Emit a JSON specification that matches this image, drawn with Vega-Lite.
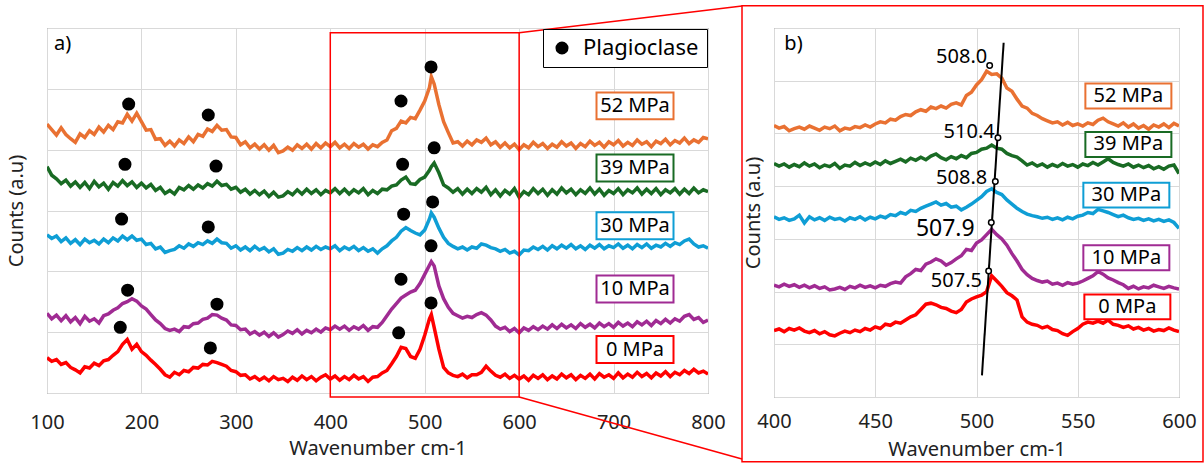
{
"$schema": "https://vega.github.io/schema/vega-lite/v6.json",
"padding": {"left": 5, "top": 4, "right": 0, "bottom": 0},
"bounds": "flush",
"spacing": 66,
"resolve": {"legend": {"shape": "independent"}},
"config": {
  "font": "Noto Sans",
  "view": {"stroke": "#6e6e6e", "strokeWidth": 1},
  "axis": {"grid": true, "gridColor": "#d9d9d9", "domain": false, "ticks": false, "tickSize": 0, "labelFontSize": 20, "titleFontSize": 20, "titleFontWeight": "normal", "labelColor": "#222", "titleColor": "#222", "labelFlush": false}
},
"datasets": {
"specA": [
{"x":100,"s52":4.42,"s39":3.72,"s30":2.60,"s10":1.31,"s0":0.58},
{"x":105,"s52":4.33,"s39":3.58,"s30":2.54,"s10":1.22,"s0":0.52},
{"x":110,"s52":4.24,"s39":3.52,"s30":2.58,"s10":1.28,"s0":0.55},
{"x":115,"s52":4.36,"s39":3.44,"s30":2.49,"s10":1.19,"s0":0.47},
{"x":120,"s52":4.25,"s39":3.50,"s30":2.55,"s10":1.27,"s0":0.50},
{"x":125,"s52":4.18,"s39":3.40,"s30":2.46,"s10":1.17,"s0":0.42},
{"x":130,"s52":4.12,"s39":3.47,"s30":2.52,"s10":1.24,"s0":0.38},
{"x":135,"s52":4.26,"s39":3.38,"s30":2.44,"s10":1.14,"s0":0.33},
{"x":140,"s52":4.20,"s39":3.46,"s30":2.53,"s10":1.26,"s0":0.43},
{"x":145,"s52":4.31,"s39":3.36,"s30":2.47,"s10":1.18,"s0":0.41},
{"x":150,"s52":4.25,"s39":3.48,"s30":2.51,"s10":1.22,"s0":0.49},
{"x":155,"s52":4.37,"s39":3.39,"s30":2.45,"s10":1.15,"s0":0.45},
{"x":160,"s52":4.29,"s39":3.45,"s30":2.53,"s10":1.27,"s0":0.53},
{"x":165,"s52":4.40,"s39":3.35,"s30":2.47,"s10":1.30,"s0":0.55},
{"x":170,"s52":4.33,"s39":3.46,"s30":2.55,"s10":1.36,"s0":0.62},
{"x":175,"s52":4.46,"s39":3.40,"s30":2.50,"s10":1.40,"s0":0.68},
{"x":180,"s52":4.44,"s39":3.49,"s30":2.58,"s10":1.47,"s0":0.80},
{"x":185,"s52":4.58,"s39":3.41,"s30":2.52,"s10":1.50,"s0":0.88},
{"x":190,"s52":4.47,"s39":3.47,"s30":2.58,"s10":1.55,"s0":0.72},
{"x":195,"s52":4.60,"s39":3.38,"s30":2.51,"s10":1.51,"s0":0.80},
{"x":200,"s52":4.46,"s39":3.45,"s30":2.53,"s10":1.43,"s0":0.68},
{"x":205,"s52":4.32,"s39":3.37,"s30":2.44,"s10":1.38,"s0":0.62},
{"x":210,"s52":4.33,"s39":3.43,"s30":2.46,"s10":1.29,"s0":0.54},
{"x":215,"s52":4.17,"s39":3.33,"s30":2.37,"s10":1.20,"s0":0.47},
{"x":220,"s52":4.18,"s39":3.38,"s30":2.40,"s10":1.14,"s0":0.39},
{"x":225,"s52":4.07,"s39":3.28,"s30":2.31,"s10":1.06,"s0":0.30},
{"x":230,"s52":4.14,"s39":3.33,"s30":2.34,"s10":1.03,"s0":0.26},
{"x":235,"s52":4.06,"s39":3.27,"s30":2.36,"s10":1.05,"s0":0.34},
{"x":240,"s52":4.16,"s39":3.38,"s30":2.42,"s10":1.01,"s0":0.30},
{"x":245,"s52":4.10,"s39":3.34,"s30":2.38,"s10":1.09,"s0":0.37},
{"x":250,"s52":4.21,"s39":3.41,"s30":2.45,"s10":1.08,"s0":0.35},
{"x":255,"s52":4.13,"s39":3.35,"s30":2.41,"s10":1.14,"s0":0.42},
{"x":260,"s52":4.25,"s39":3.42,"s30":2.47,"s10":1.15,"s0":0.41},
{"x":265,"s52":4.22,"s39":3.37,"s30":2.44,"s10":1.21,"s0":0.47},
{"x":270,"s52":4.34,"s39":3.44,"s30":2.50,"s10":1.23,"s0":0.46},
{"x":275,"s52":4.30,"s39":3.40,"s30":2.46,"s10":1.29,"s0":0.52},
{"x":280,"s52":4.40,"s39":3.48,"s30":2.53,"s10":1.28,"s0":0.50},
{"x":285,"s52":4.32,"s39":3.41,"s30":2.47,"s10":1.23,"s0":0.47},
{"x":290,"s52":4.33,"s39":3.43,"s30":2.46,"s10":1.20,"s0":0.44},
{"x":295,"s52":4.21,"s39":3.35,"s30":2.38,"s10":1.12,"s0":0.37},
{"x":300,"s52":4.20,"s39":3.38,"s30":2.42,"s10":1.11,"s0":0.35},
{"x":305,"s52":4.08,"s39":3.30,"s30":2.35,"s10":1.04,"s0":0.29},
{"x":310,"s52":4.13,"s39":3.35,"s30":2.40,"s10":1.05,"s0":0.30},
{"x":315,"s52":4.03,"s39":3.27,"s30":2.34,"s10":0.97,"s0":0.23},
{"x":320,"s52":4.09,"s39":3.33,"s30":2.41,"s10":1.01,"s0":0.27},
{"x":325,"s52":4.01,"s39":3.26,"s30":2.35,"s10":0.95,"s0":0.21},
{"x":330,"s52":4.08,"s39":3.32,"s30":2.39,"s10":1.00,"s0":0.26},
{"x":335,"s52":3.99,"s39":3.23,"s30":2.32,"s10":0.93,"s0":0.20},
{"x":340,"s52":4.07,"s39":3.30,"s30":2.37,"s10":0.99,"s0":0.27},
{"x":345,"s52":3.95,"s39":3.22,"s30":2.28,"s10":0.92,"s0":0.22},
{"x":350,"s52":3.98,"s39":3.24,"s30":2.30,"s10":0.96,"s0":0.24},
{"x":355,"s52":4.04,"s39":3.31,"s30":2.36,"s10":1.02,"s0":0.19},
{"x":360,"s52":3.99,"s39":3.26,"s30":2.33,"s10":0.98,"s0":0.26},
{"x":365,"s52":4.08,"s39":3.34,"s30":2.39,"s10":1.04,"s0":0.21},
{"x":370,"s52":4.02,"s39":3.27,"s30":2.34,"s10":0.97,"s0":0.28},
{"x":375,"s52":4.09,"s39":3.35,"s30":2.40,"s10":1.03,"s0":0.22},
{"x":380,"s52":4.01,"s39":3.28,"s30":2.35,"s10":0.99,"s0":0.27},
{"x":385,"s52":4.10,"s39":3.34,"s30":2.41,"s10":1.05,"s0":0.20},
{"x":390,"s52":4.03,"s39":3.26,"s30":2.36,"s10":1.00,"s0":0.26},
{"x":395,"s52":4.11,"s39":3.33,"s30":2.40,"s10":1.07,"s0":0.30},
{"x":400,"s52":4.05,"s39":3.29,"s30":2.37,"s10":1.04,"s0":0.23},
{"x":405,"s52":4.12,"s39":3.36,"s30":2.42,"s10":1.10,"s0":0.28},
{"x":410,"s52":4.03,"s39":3.28,"s30":2.34,"s10":1.05,"s0":0.21},
{"x":415,"s52":4.09,"s39":3.35,"s30":2.40,"s10":1.10,"s0":0.27},
{"x":420,"s52":4.02,"s39":3.27,"s30":2.36,"s10":1.03,"s0":0.22},
{"x":425,"s52":4.10,"s39":3.34,"s30":2.41,"s10":1.09,"s0":0.29},
{"x":430,"s52":4.04,"s39":3.29,"s30":2.34,"s10":1.05,"s0":0.23},
{"x":435,"s52":4.09,"s39":3.36,"s30":2.39,"s10":1.11,"s0":0.27},
{"x":440,"s52":4.01,"s39":3.26,"s30":2.33,"s10":1.03,"s0":0.19},
{"x":445,"s52":4.08,"s39":3.33,"s30":2.37,"s10":1.09,"s0":0.26},
{"x":450,"s52":4.05,"s39":3.28,"s30":2.30,"s10":1.08,"s0":0.27},
{"x":455,"s52":4.12,"s39":3.35,"s30":2.37,"s10":1.16,"s0":0.33},
{"x":460,"s52":4.16,"s39":3.34,"s30":2.42,"s10":1.27,"s0":0.37},
{"x":465,"s52":4.31,"s39":3.40,"s30":2.50,"s10":1.38,"s0":0.48},
{"x":470,"s52":4.35,"s39":3.42,"s30":2.56,"s10":1.47,"s0":0.60},
{"x":475,"s52":4.47,"s39":3.50,"s30":2.66,"s10":1.56,"s0":0.75},
{"x":480,"s52":4.44,"s39":3.55,"s30":2.72,"s10":1.61,"s0":0.73},
{"x":485,"s52":4.53,"s39":3.44,"s30":2.67,"s10":1.66,"s0":0.60},
{"x":490,"s52":4.51,"s39":3.43,"s30":2.63,"s10":1.69,"s0":0.57},
{"x":495,"s52":4.65,"s39":3.51,"s30":2.60,"s10":1.80,"s0":0.72},
{"x":500,"s52":4.80,"s39":3.55,"s30":2.68,"s10":1.95,"s0":0.95},
{"x":505,"s52":5.02,"s39":3.66,"s30":2.86,"s10":2.10,"s0":1.22},
{"x":507,"s52":5.20,"s39":3.72,"s30":2.96,"s10":2.16,"s0":1.29},
{"x":510,"s52":5.08,"s39":3.78,"s30":2.89,"s10":2.09,"s0":1.08},
{"x":515,"s52":4.74,"s39":3.62,"s30":2.71,"s10":1.76,"s0":0.72},
{"x":520,"s52":4.46,"s39":3.42,"s30":2.56,"s10":1.55,"s0":0.42},
{"x":525,"s52":4.28,"s39":3.37,"s30":2.46,"s10":1.41,"s0":0.33},
{"x":530,"s52":4.11,"s39":3.30,"s30":2.41,"s10":1.31,"s0":0.29},
{"x":535,"s52":4.13,"s39":3.36,"s30":2.37,"s10":1.27,"s0":0.27},
{"x":540,"s52":4.06,"s39":3.27,"s30":2.40,"s10":1.23,"s0":0.31},
{"x":545,"s52":4.14,"s39":3.35,"s30":2.35,"s10":1.26,"s0":0.25},
{"x":550,"s52":4.08,"s39":3.28,"s30":2.40,"s10":1.24,"s0":0.30},
{"x":555,"s52":4.16,"s39":3.36,"s30":2.38,"s10":1.29,"s0":0.30},
{"x":560,"s52":4.12,"s39":3.30,"s30":2.45,"s10":1.32,"s0":0.34},
{"x":565,"s52":4.19,"s39":3.38,"s30":2.43,"s10":1.28,"s0":0.44},
{"x":570,"s52":4.08,"s39":3.26,"s30":2.39,"s10":1.20,"s0":0.36},
{"x":575,"s52":4.13,"s39":3.34,"s30":2.37,"s10":1.10,"s0":0.29},
{"x":580,"s52":4.04,"s39":3.24,"s30":2.33,"s10":1.05,"s0":0.26},
{"x":585,"s52":4.11,"s39":3.33,"s30":2.36,"s10":1.08,"s0":0.31},
{"x":590,"s52":4.03,"s39":3.27,"s30":2.30,"s10":1.01,"s0":0.24},
{"x":595,"s52":4.09,"s39":3.36,"s30":2.33,"s10":1.06,"s0":0.29},
{"x":600,"s52":4.00,"s39":3.22,"s30":2.27,"s10":0.99,"s0":0.23},
{"x":605,"s52":4.08,"s39":3.31,"s30":2.35,"s10":1.07,"s0":0.28},
{"x":610,"s52":4.03,"s39":3.26,"s30":2.34,"s10":1.03,"s0":0.21},
{"x":615,"s52":4.12,"s39":3.36,"s30":2.40,"s10":1.09,"s0":0.29},
{"x":620,"s52":4.05,"s39":3.28,"s30":2.36,"s10":1.04,"s0":0.24},
{"x":625,"s52":4.10,"s39":3.35,"s30":2.41,"s10":1.10,"s0":0.30},
{"x":630,"s52":4.02,"s39":3.25,"s30":2.35,"s10":1.05,"s0":0.22},
{"x":635,"s52":4.09,"s39":3.34,"s30":2.42,"s10":1.12,"s0":0.28},
{"x":640,"s52":4.04,"s39":3.27,"s30":2.37,"s10":1.06,"s0":0.23},
{"x":645,"s52":4.13,"s39":3.37,"s30":2.43,"s10":1.13,"s0":0.31},
{"x":650,"s52":4.06,"s39":3.29,"s30":2.38,"s10":1.07,"s0":0.25},
{"x":655,"s52":4.11,"s39":3.35,"s30":2.44,"s10":1.12,"s0":0.30},
{"x":660,"s52":4.02,"s39":3.26,"s30":2.37,"s10":1.06,"s0":0.22},
{"x":665,"s52":4.10,"s39":3.34,"s30":2.42,"s10":1.14,"s0":0.29},
{"x":670,"s52":4.05,"s39":3.28,"s30":2.36,"s10":1.08,"s0":0.24},
{"x":675,"s52":4.14,"s39":3.37,"s30":2.43,"s10":1.13,"s0":0.31},
{"x":680,"s52":4.07,"s39":3.27,"s30":2.38,"s10":1.07,"s0":0.23},
{"x":685,"s52":4.12,"s39":3.35,"s30":2.44,"s10":1.15,"s0":0.32},
{"x":690,"s52":4.04,"s39":3.25,"s30":2.37,"s10":1.09,"s0":0.26},
{"x":695,"s52":4.13,"s39":3.33,"s30":2.42,"s10":1.14,"s0":0.30},
{"x":700,"s52":4.08,"s39":3.28,"s30":2.39,"s10":1.08,"s0":0.24},
{"x":705,"s52":4.15,"s39":3.36,"s30":2.45,"s10":1.16,"s0":0.33},
{"x":710,"s52":4.06,"s39":3.26,"s30":2.38,"s10":1.10,"s0":0.25},
{"x":715,"s52":4.12,"s39":3.34,"s30":2.43,"s10":1.15,"s0":0.31},
{"x":720,"s52":4.07,"s39":3.29,"s30":2.37,"s10":1.09,"s0":0.26},
{"x":725,"s52":4.16,"s39":3.37,"s30":2.44,"s10":1.17,"s0":0.34},
{"x":730,"s52":4.09,"s39":3.27,"s30":2.39,"s10":1.12,"s0":0.27},
{"x":735,"s52":4.13,"s39":3.35,"s30":2.45,"s10":1.18,"s0":0.32},
{"x":740,"s52":4.05,"s39":3.28,"s30":2.38,"s10":1.11,"s0":0.25},
{"x":745,"s52":4.14,"s39":3.36,"s30":2.43,"s10":1.19,"s0":0.33},
{"x":750,"s52":4.10,"s39":3.26,"s30":2.40,"s10":1.14,"s0":0.28},
{"x":755,"s52":4.17,"s39":3.34,"s30":2.46,"s10":1.21,"s0":0.35},
{"x":760,"s52":4.08,"s39":3.29,"s30":2.41,"s10":1.15,"s0":0.27},
{"x":765,"s52":4.15,"s39":3.36,"s30":2.47,"s10":1.22,"s0":0.34},
{"x":770,"s52":4.11,"s39":3.27,"s30":2.44,"s10":1.18,"s0":0.30},
{"x":775,"s52":4.19,"s39":3.35,"s30":2.50,"s10":1.26,"s0":0.37},
{"x":780,"s52":4.10,"s39":3.28,"s30":2.53,"s10":1.29,"s0":0.32},
{"x":785,"s52":4.16,"s39":3.37,"s30":2.45,"s10":1.21,"s0":0.39},
{"x":790,"s52":4.12,"s39":3.29,"s30":2.40,"s10":1.24,"s0":0.33},
{"x":795,"s52":4.20,"s39":3.34,"s30":2.42,"s10":1.16,"s0":0.36},
{"x":800,"s52":4.18,"s39":3.31,"s30":2.38,"s10":1.20,"s0":0.31}
],
"specB": [
{"x":400,"s52":5.15,"s39":4.43,"s30":3.42,"s10":2.12,"s0":1.26},
{"x":402.5,"s52":5.10,"s39":4.38,"s30":3.37,"s10":2.09,"s0":1.29},
{"x":405,"s52":5.13,"s39":4.42,"s30":3.40,"s10":2.14,"s0":1.24},
{"x":407.5,"s52":5.05,"s39":4.36,"s30":3.35,"s10":2.10,"s0":1.30},
{"x":410,"s52":5.09,"s39":4.41,"s30":3.38,"s10":2.13,"s0":1.27},
{"x":412.5,"s52":5.12,"s39":4.37,"s30":3.45,"s10":2.08,"s0":1.31},
{"x":415,"s52":5.08,"s39":4.44,"s30":3.30,"s10":2.12,"s0":1.25},
{"x":417.5,"s52":5.14,"s39":4.38,"s30":3.42,"s10":2.07,"s0":1.22},
{"x":420,"s52":5.10,"s39":4.42,"s30":3.36,"s10":2.11,"s0":1.26},
{"x":422.5,"s52":5.06,"s39":4.35,"s30":3.40,"s10":2.06,"s0":1.20},
{"x":425,"s52":5.12,"s39":4.40,"s30":3.35,"s10":2.09,"s0":1.24},
{"x":427.5,"s52":5.09,"s39":4.37,"s30":3.41,"s10":2.03,"s0":1.18},
{"x":430,"s52":5.14,"s39":4.43,"s30":3.37,"s10":2.05,"s0":1.16},
{"x":432.5,"s52":5.05,"s39":4.34,"s30":3.39,"s10":2.08,"s0":1.21},
{"x":435,"s52":5.10,"s39":4.40,"s30":3.34,"s10":2.04,"s0":1.25},
{"x":437.5,"s52":5.08,"s39":4.38,"s30":3.40,"s10":2.10,"s0":1.22},
{"x":440,"s52":5.13,"s39":4.45,"s30":3.37,"s10":2.07,"s0":1.27},
{"x":442.5,"s52":5.11,"s39":4.39,"s30":3.42,"s10":2.12,"s0":1.24},
{"x":445,"s52":5.16,"s39":4.44,"s30":3.36,"s10":2.08,"s0":1.30},
{"x":447.5,"s52":5.12,"s39":4.40,"s30":3.41,"s10":2.11,"s0":1.27},
{"x":450,"s52":5.18,"s39":4.46,"s30":3.38,"s10":2.07,"s0":1.33},
{"x":452.5,"s52":5.22,"s39":4.41,"s30":3.43,"s10":2.12,"s0":1.30},
{"x":455,"s52":5.20,"s39":4.48,"s30":3.40,"s10":2.10,"s0":1.38},
{"x":457.5,"s52":5.27,"s39":4.43,"s30":3.46,"s10":2.15,"s0":1.36},
{"x":460,"s52":5.25,"s39":4.47,"s30":3.44,"s10":2.18,"s0":1.42},
{"x":462.5,"s52":5.32,"s39":4.51,"s30":3.50,"s10":2.16,"s0":1.40},
{"x":465,"s52":5.36,"s39":4.46,"s30":3.47,"s10":2.28,"s0":1.46},
{"x":467.5,"s52":5.34,"s39":4.53,"s30":3.54,"s10":2.34,"s0":1.52},
{"x":470,"s52":5.41,"s39":4.49,"s30":3.52,"s10":2.42,"s0":1.56},
{"x":472.5,"s52":5.45,"s39":4.55,"s30":3.58,"s10":2.40,"s0":1.66},
{"x":475,"s52":5.42,"s39":4.50,"s30":3.62,"s10":2.52,"s0":1.76},
{"x":477.5,"s52":5.50,"s39":4.57,"s30":3.66,"s10":2.56,"s0":1.78},
{"x":480,"s52":5.47,"s39":4.61,"s30":3.70,"s10":2.62,"s0":1.75},
{"x":482.5,"s52":5.52,"s39":4.54,"s30":3.64,"s10":2.58,"s0":1.70},
{"x":485,"s52":5.48,"s39":4.50,"s30":3.67,"s10":2.50,"s0":1.68},
{"x":487.5,"s52":5.55,"s39":4.56,"s30":3.60,"s10":2.55,"s0":1.63},
{"x":490,"s52":5.58,"s39":4.52,"s30":3.62,"s10":2.62,"s0":1.60},
{"x":492.5,"s52":5.54,"s39":4.58,"s30":3.55,"s10":2.68,"s0":1.66},
{"x":495,"s52":5.72,"s39":4.54,"s30":3.60,"s10":2.80,"s0":1.80},
{"x":497.5,"s52":5.78,"s39":4.62,"s30":3.66,"s10":2.78,"s0":1.86},
{"x":500,"s52":5.92,"s39":4.64,"s30":3.73,"s10":2.92,"s0":1.90},
{"x":502.5,"s52":6.02,"s39":4.70,"s30":3.80,"s10":2.98,"s0":1.93},
{"x":505,"s52":6.18,"s39":4.72,"s30":3.90,"s10":3.08,"s0":2.00},
{"x":507.5,"s52":6.12,"s39":4.78,"s30":3.95,"s10":3.18,"s0":2.30},
{"x":510,"s52":6.13,"s39":4.72,"s30":3.88,"s10":3.08,"s0":2.20},
{"x":512.5,"s52":6.05,"s39":4.70,"s30":3.84,"s10":3.00,"s0":2.10},
{"x":515,"s52":5.86,"s39":4.62,"s30":3.74,"s10":2.88,"s0":1.98},
{"x":517.5,"s52":5.80,"s39":4.58,"s30":3.66,"s10":2.72,"s0":1.92},
{"x":520,"s52":5.65,"s39":4.55,"s30":3.58,"s10":2.58,"s0":1.84},
{"x":522.5,"s52":5.52,"s39":4.48,"s30":3.52,"s10":2.42,"s0":1.52},
{"x":525,"s52":5.48,"s39":4.40,"s30":3.47,"s10":2.32,"s0":1.42},
{"x":527.5,"s52":5.38,"s39":4.44,"s30":3.44,"s10":2.25,"s0":1.38},
{"x":530,"s52":5.34,"s39":4.38,"s30":3.42,"s10":2.21,"s0":1.36},
{"x":532.5,"s52":5.28,"s39":4.42,"s30":3.39,"s10":2.18,"s0":1.31},
{"x":535,"s52":5.24,"s39":4.36,"s30":3.41,"s10":2.20,"s0":1.34},
{"x":537.5,"s52":5.20,"s39":4.41,"s30":3.37,"s10":2.14,"s0":1.28},
{"x":540,"s52":5.22,"s39":4.37,"s30":3.40,"s10":2.16,"s0":1.26},
{"x":542.5,"s52":5.16,"s39":4.43,"s30":3.36,"s10":2.12,"s0":1.20},
{"x":545,"s52":5.21,"s39":4.38,"s30":3.41,"s10":2.17,"s0":1.17},
{"x":547.5,"s52":5.15,"s39":4.41,"s30":3.38,"s10":2.14,"s0":1.24},
{"x":550,"s52":5.18,"s39":4.36,"s30":3.43,"s10":2.16,"s0":1.30},
{"x":552.5,"s52":5.14,"s39":4.42,"s30":3.45,"s10":2.20,"s0":1.38},
{"x":555,"s52":5.20,"s39":4.39,"s30":3.50,"s10":2.25,"s0":1.42},
{"x":557.5,"s52":5.17,"s39":4.45,"s30":3.48,"s10":2.30,"s0":1.40},
{"x":560,"s52":5.25,"s39":4.40,"s30":3.56,"s10":2.38,"s0":1.44},
{"x":562.5,"s52":5.29,"s39":4.46,"s30":3.53,"s10":2.33,"s0":1.40},
{"x":565,"s52":5.22,"s39":4.52,"s30":3.50,"s10":2.26,"s0":1.46},
{"x":567.5,"s52":5.18,"s39":4.45,"s30":3.46,"s10":2.22,"s0":1.38},
{"x":570,"s52":5.14,"s39":4.41,"s30":3.42,"s10":2.17,"s0":1.36},
{"x":572.5,"s52":5.20,"s39":4.38,"s30":3.45,"s10":2.13,"s0":1.32},
{"x":575,"s52":5.12,"s39":4.42,"s30":3.40,"s10":2.06,"s0":1.35},
{"x":577.5,"s52":5.18,"s39":4.36,"s30":3.37,"s10":2.10,"s0":1.29},
{"x":580,"s52":5.10,"s39":4.40,"s30":3.39,"s10":2.05,"s0":1.32},
{"x":582.5,"s52":5.15,"s39":4.35,"s30":3.35,"s10":2.09,"s0":1.27},
{"x":585,"s52":5.08,"s39":4.39,"s30":3.38,"s10":2.07,"s0":1.30},
{"x":587.5,"s52":5.16,"s39":4.33,"s30":3.34,"s10":2.12,"s0":1.25},
{"x":590,"s52":5.12,"s39":4.37,"s30":3.37,"s10":2.09,"s0":1.28},
{"x":592.5,"s52":5.18,"s39":4.32,"s30":3.33,"s10":2.06,"s0":1.26},
{"x":595,"s52":5.11,"s39":4.38,"s30":3.36,"s10":2.10,"s0":1.31},
{"x":597.5,"s52":5.19,"s39":4.40,"s30":3.31,"s10":2.07,"s0":1.27},
{"x":600,"s52":5.14,"s39":4.24,"s30":3.20,"s10":2.05,"s0":1.24}
],
"dotsA": [
{"x":186.5,"v":4.75,"kind":"Plagioclase"},{"x":270.8,"v":4.57,"kind":"Plagioclase"},{"x":474.9,"v":4.80,"kind":"Plagioclase"},{"x":506.7,"v":5.36,"kind":"Plagioclase"},
{"x":182.6,"v":3.76,"kind":"Plagioclase"},{"x":279,"v":3.73,"kind":"Plagioclase"},{"x":476.6,"v":3.76,"kind":"Plagioclase"},{"x":510,"v":4.03,"kind":"Plagioclase"},
{"x":179,"v":2.86,"kind":"Plagioclase"},{"x":270.8,"v":2.73,"kind":"Plagioclase"},{"x":477.7,"v":2.94,"kind":"Plagioclase"},{"x":508.4,"v":3.14,"kind":"Plagioclase"},
{"x":185.4,"v":1.69,"kind":"Plagioclase"},{"x":280,"v":1.46,"kind":"Plagioclase"},{"x":474.9,"v":1.87,"kind":"Plagioclase"},{"x":506.7,"v":2.42,"kind":"Plagioclase"},
{"x":177.6,"v":1.08,"kind":"Plagioclase"},{"x":273,"v":0.74,"kind":"Plagioclase"},{"x":472.4,"v":0.99,"kind":"Plagioclase"},{"x":506.7,"v":1.48,"kind":"Plagioclase"}
],
"labA": [
{"x":722.7,"v":4.72,"label":"52 MPa","series":"s52"},
{"x":722.7,"v":3.70,"label":"39 MPa","series":"s39"},
{"x":722.7,"v":2.75,"label":"30 MPa","series":"s30"},
{"x":722.7,"v":1.71,"label":"10 MPa","series":"s10"},
{"x":722.7,"v":0.715,"label":"0 MPa","series":"s0"}
],
"labB": [
{"x":575,"v":5.71,"label":"52 MPa","series":"s52"},
{"x":575,"v":4.79,"label":"39 MPa","series":"s39"},
{"x":574,"v":3.83,"label":"30 MPa","series":"s30"},
{"x":574,"v":2.64,"label":"10 MPa","series":"s10"},
{"x":574.5,"v":1.71,"label":"0 MPa","series":"s0"}
],
"peaksB": [
{"x":506.5,"v":6.29,"tx":505.3,"tv":6.45,"t":"508.0","fs":20},
{"x":510.6,"v":4.92,"tx":509.0,"tv":5.03,"t":"510.4","fs":20},
{"x":509.3,"v":4.09,"tx":505.3,"tv":4.16,"t":"508.8","fs":20},
{"x":507.3,"v":3.31,"tx":499.1,"tv":3.19,"t":"507.9","fs":23},
{"x":506.0,"v":2.39,"tx":502.7,"tv":2.21,"t":"507.5","fs":20}
]
},
"hconcat": [
{
  "width": 661, "height": 365,
  "encoding": {
    "x": {"field": "x", "type": "quantitative", "scale": {"domain": [100, 800], "nice": false, "zero": false},
          "axis": {"values": [100,200,300,400,500,600,700,800], "title": "Wavenumber cm-1", "labelPadding": 19, "titlePadding": 6}},
    "y": {"field": "v", "type": "quantitative", "scale": {"domain": [0, 6], "nice": false},
          "axis": {"values": [0,1,2,3,4,5,6], "labels": false, "title": "Counts (a.u)", "titlePadding": 21}}
  },
  "layer": [
    {"data": {"name": "specA"}, "transform": [{"fold": ["s52","s39","s30","s10","s0"], "as": ["series","v"]}],
     "mark": {"type": "line", "strokeWidth": 3.5, "clip": true},
     "encoding": {"color": {"field": "series", "type": "nominal", "scale": {"domain": ["s52","s39","s30","s10","s0"], "range": ["#E97132","#196B24","#0F9ED5","#A02B93","#FF0000"]}, "legend": null}}},
    {"data": {"name": "dotsA"},
     "mark": {"type": "point", "filled": true, "color": "black", "size": 170, "opacity": 1},
     "encoding": {"shape": {"field": "kind", "type": "nominal", "scale": {"range": ["circle"]},
        "legend": {"title": null, "orient": "top-right", "offset": 1, "padding": 8, "strokeColor": "black", "fillColor": "white", "labelFontSize": 22, "labelColor": "#000", "symbolSize": 170, "symbolFillColor": "black", "symbolStrokeColor": "black", "symbolStrokeWidth": 0, "labelOffset": 10, "labelExpr": "datum.label + '\u00a0\u00a0\u00a0'"}}}},
    {"data": {"name": "labA"},
     "mark": {"type": "point", "shape": "M-1,-0.35H1V0.35H-1Z", "size": 5929, "filled": true, "fill": "white", "strokeWidth": 2, "opacity": 1},
     "encoding": {"stroke": {"field": "series", "type": "nominal", "scale": {"domain": ["s52","s39","s30","s10","s0"], "range": ["#E97132","#196B24","#0F9ED5","#A02B93","#FF0000"]}, "legend": null}}},
    {"data": {"name": "labA"},
     "mark": {"type": "text", "fontSize": 20, "align": "center", "baseline": "middle", "color": "#000"},
     "encoding": {"text": {"field": "label"}}},
    {"data": {"values": [{"x": 400, "x2": 600, "v": -0.066, "v2": 5.92}]},
     "mark": {"type": "rect", "fill": "transparent", "stroke": "#FF0000", "strokeWidth": 1.5, "clip": false},
     "encoding": {"x2": {"field": "x2"}, "y2": {"field": "v2"}}},
    {"data": {"values": [{"x": 600, "v": 5.92, "x2": 836, "v2": 6.36}, {"x": 600, "v": -0.066, "x2": 836, "v2": -1.085}]},
     "mark": {"type": "rule", "stroke": "#FF0000", "strokeWidth": 1.5, "clip": false},
     "encoding": {"x2": {"field": "x2"}, "y2": {"field": "v2"}}},
    {"data": {"values": [{"x": 107.4, "v": 5.74, "t": "a)"}]},
     "mark": {"type": "text", "fontSize": 20, "align": "left", "baseline": "middle", "color": "#000"},
     "encoding": {"text": {"field": "t"}}}
  ]
},
{
  "width": 405, "height": 369,
  "encoding": {
    "x": {"field": "x", "type": "quantitative", "scale": {"domain": [400, 600], "nice": false, "zero": false},
          "axis": {"values": [400,450,500,550,600], "title": "Wavenumber  cm-1", "labelPadding": 14, "titlePadding": 8}},
    "y": {"field": "v", "type": "quantitative", "scale": {"domain": [0, 7], "nice": false},
          "axis": {"values": [0,1,2,3,4,5,6,7], "labels": false, "title": "Counts (a.u)", "titlePadding": 11}}
  },
  "layer": [
    {"data": {"name": "specB"}, "transform": [{"fold": ["s52","s39","s30","s10","s0"], "as": ["series","v"]}],
     "mark": {"type": "line", "strokeWidth": 3.5, "clip": true},
     "encoding": {"color": {"field": "series", "type": "nominal", "scale": {"domain": ["s52","s39","s30","s10","s0"], "range": ["#E97132","#196B24","#0F9ED5","#A02B93","#FF0000"]}, "legend": null}}},
    {"data": {"values": [{"x": 502.7, "v": 0.41, "x2": 513.4, "v2": 6.72}]},
     "mark": {"type": "rule", "stroke": "#000", "strokeWidth": 2},
     "encoding": {"x2": {"field": "x2"}, "y2": {"field": "v2"}}},
    {"data": {"name": "peaksB"},
     "mark": {"type": "point", "filled": true, "fill": "white", "stroke": "#000", "strokeWidth": 1.5, "size": 30, "opacity": 1},
     "encoding": {}},
    {"data": {"name": "peaksB"},
     "mark": {"type": "text", "align": "right", "baseline": "middle", "color": "#000"},
     "encoding": {"x": {"field": "tx", "type": "quantitative"}, "y": {"field": "tv", "type": "quantitative"}, "text": {"field": "t"}, "size": {"field": "fs", "type": "quantitative", "scale": null}}},
    {"data": {"name": "labB"},
     "mark": {"type": "point", "shape": "M-1,-0.29H1V0.29H-1Z", "size": 7396, "filled": true, "fill": "white", "strokeWidth": 2, "opacity": 1},
     "encoding": {"stroke": {"field": "series", "type": "nominal", "scale": {"domain": ["s52","s39","s30","s10","s0"], "range": ["#E97132","#196B24","#0F9ED5","#A02B93","#FF0000"]}, "legend": null}}},
    {"data": {"name": "labB"},
     "mark": {"type": "text", "fontSize": 20, "align": "center", "baseline": "middle", "color": "#000"},
     "encoding": {"text": {"field": "label"}}},
    {"data": {"values": [{"x": 384.2, "x2": 611.85, "v": -1.23, "v2": 7.42}]},
     "mark": {"type": "rect", "fill": "transparent", "stroke": "#FF0000", "strokeWidth": 1.5, "clip": false},
     "encoding": {"x2": {"field": "x2"}, "y2": {"field": "v2"}}},
    {"data": {"values": [{"x": 405.1, "v": 6.70, "t": "b)"}]},
     "mark": {"type": "text", "fontSize": 20, "align": "left", "baseline": "middle", "color": "#000"},
     "encoding": {"text": {"field": "t"}}}
  ]
}
]
}
